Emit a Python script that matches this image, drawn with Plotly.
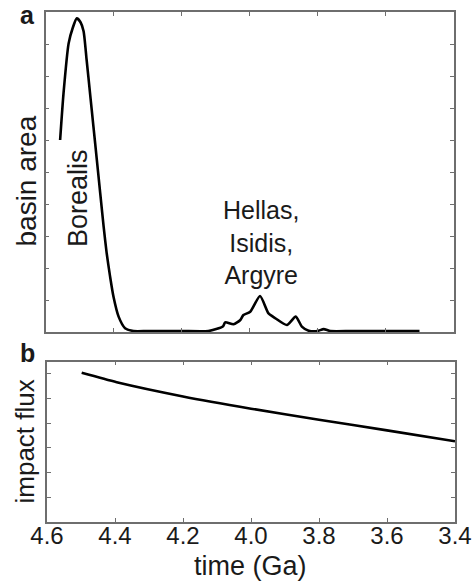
import plotly.graph_objects as go

# ---- data ----
time_a = [4.557, 4.547, 4.532, 4.520, 4.508, 4.497, 4.488, 4.479, 4.469, 4.459,
          4.449, 4.439, 4.429, 4.420, 4.410, 4.400, 4.385, 4.366, 4.341, 4.30,
          4.20, 4.121, 4.0785, 4.0715, 4.047, 4.027, 4.018, 3.998, 3.969, 3.944,
          3.924, 3.890, 3.864, 3.846, 3.826, 3.80, 3.782, 3.762, 3.70, 3.60, 3.50]
basin_area = [6.0, 7.46, 9.02, 9.50, 9.80, 9.68, 9.40, 8.5, 7.46, 6.42,
              5.38, 4.33, 3.29, 2.46, 1.73, 1.10, 0.48, 0.12, 0.03, 0.03,
              0.03, 0.03, 0.17, 0.30, 0.24, 0.375, 0.53, 0.63, 1.125, 0.58,
              0.43, 0.22, 0.48, 0.17, 0.04, 0.03, 0.09, 0.03, 0.03, 0.03, 0.03]

time_b = [4.498, 4.395, 4.2, 4.0, 3.8, 3.6, 3.4]
impact_flux = [6.04, 5.66, 5.085, 4.59, 4.14, 3.71, 3.27]

x_ticks = [4.6, 4.4, 4.2, 4.0, 3.8, 3.6, 3.4]
x_ticktext = ["4.6", "4.4", "4.2", "4.0", "3.8", "3.6", "3.4"]

W, H = 476, 583
FONT = "Liberation Sans, Arial, Helvetica, sans-serif"
FRAME = "#6e6e6e"
TXT = "#1a1a1a"

fig = go.Figure()
fig.add_trace(go.Scatter(x=time_a, y=basin_area, xaxis="x", yaxis="y", mode="lines",
                         line=dict(color="black", width=2.6, shape="spline", smoothing=0.6),
                         showlegend=False, hoverinfo="skip"))
fig.add_trace(go.Scatter(x=time_b, y=impact_flux, xaxis="x2", yaxis="y2", mode="lines",
                         line=dict(color="black", width=2.6, shape="spline", smoothing=0.6),
                         showlegend=False, hoverinfo="skip"))

common = dict(showgrid=False, zeroline=False, showline=True, linecolor=FRAME, linewidth=1.5,
              ticks="inside", ticklen=4, tickwidth=1, tickcolor=FRAME, mirror="ticks",
              automargin=False)

fig.update_layout(
    template="none",
    width=W, height=H, autosize=False,
    margin=dict(l=0, r=0, t=0, b=0, pad=0),
    paper_bgcolor="white", plot_bgcolor="white",
    font=dict(family=FONT, color=TXT),
    xaxis=dict(domain=[45.5 / W, 453.5 / W], range=[4.6, 3.4], anchor="y",
               tickvals=x_ticks, showticklabels=False, **common),
    yaxis=dict(domain=[1 - 332 / H, 1 - 12 / H], range=[0, 10], dtick=1, tick0=0,
               anchor="x", showticklabels=False, **common),
    xaxis2=dict(domain=[47 / W, 455 / W], range=[4.6, 3.4], anchor="y2",
                tickvals=x_ticks, ticktext=x_ticktext, showticklabels=True,
                ticklabelstandoff=-9,
                tickfont=dict(size=24, color=TXT), **common),
    yaxis2=dict(domain=[1 - 522 / H, 1 - 361.5 / H], range=[0, 6.5], dtick=1, tick0=0,
                anchor="x2", showticklabels=False, **common),
)

ann = []
ann.append(dict(text="<b>a</b>", x=27 / W, y=1 - 15 / H, xref="paper", yref="paper",
                showarrow=False, font=dict(size=25, color=TXT), xanchor="center", yanchor="middle"))
ann.append(dict(text="<b>b</b>", x=27 / W, y=1 - 353 / H, xref="paper", yref="paper",
                showarrow=False, font=dict(size=25, color=TXT), xanchor="center", yanchor="middle"))
ann.append(dict(text="basin area", x=26 / W, y=1 - 181.5 / H, xref="paper", yref="paper",
                textangle=-90, showarrow=False, font=dict(size=28, color=TXT),
                xanchor="center", yanchor="middle"))
ann.append(dict(text="impact flux", x=24 / W, y=1 - 441.5 / H, xref="paper", yref="paper",
                textangle=-90, showarrow=False, font=dict(size=26, color=TXT),
                xanchor="center", yanchor="middle"))
ann.append(dict(text="time (Ga)", x=250 / W, y=1 - 566 / H, xref="paper", yref="paper",
                showarrow=False, font=dict(size=27, color=TXT),
                xanchor="center", yanchor="middle"))
ann.append(dict(text="Borealis", x=4.506, y=4.2, xref="x", yref="y",
                textangle=-90, showarrow=False, font=dict(size=27, color=TXT),
                xanchor="center", yanchor="middle"))
ann.append(dict(text="Hellas,<br>Isidis,<br>Argyre", x=3.966, y=2.8, xref="x", yref="y",
                showarrow=False, font=dict(size=25, color=TXT),
                xanchor="center", yanchor="middle"))
fig.update_layout(annotations=ann)

fig.write_html("out.html", config={"displayModeBar": False},
               post_script="document.body.style.margin='0';document.body.style.overflow='hidden';")
